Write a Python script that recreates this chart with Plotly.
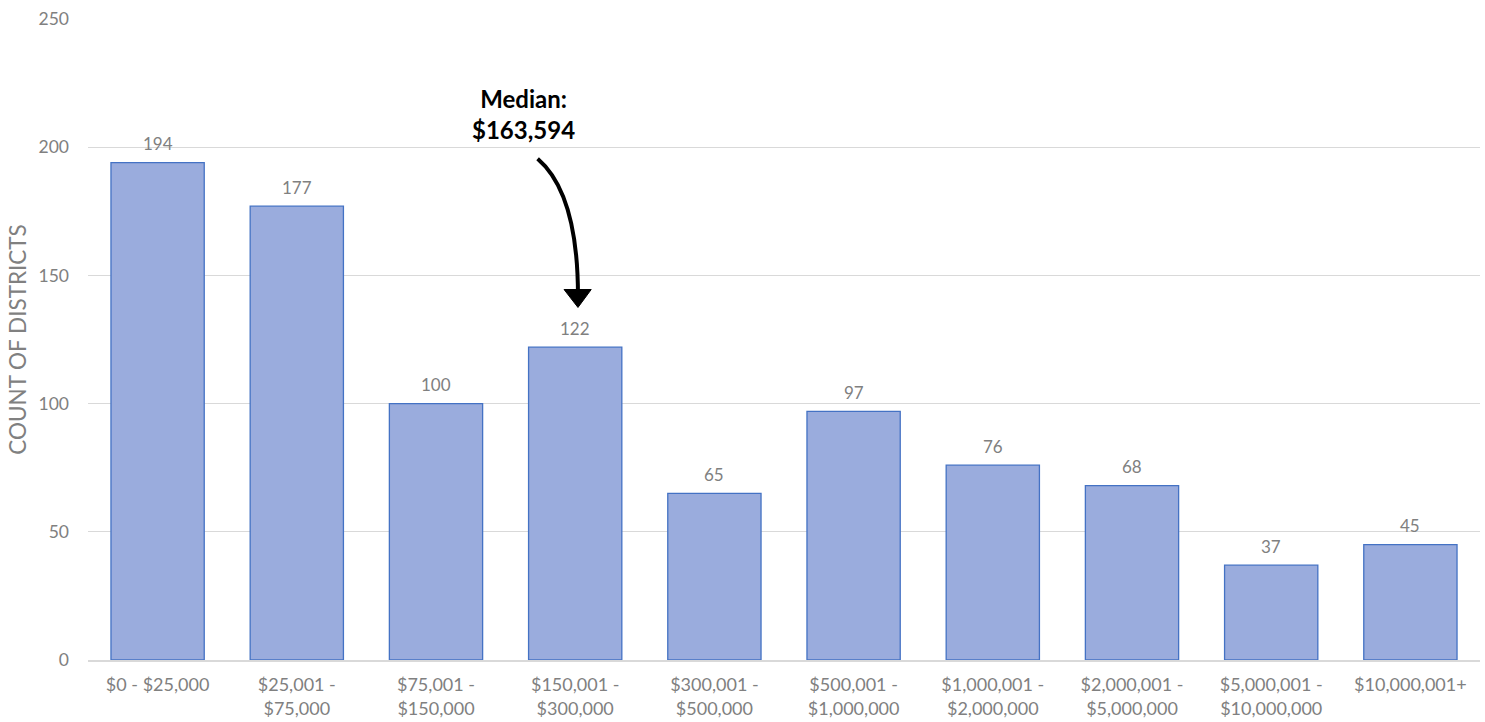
import plotly.graph_objects as go

categories = ["$0 - $25,000", "$25,001 -<br>$75,000", "$75,001 -<br>$150,000",
              "$150,001 -<br>$300,000", "$300,001 -<br>$500,000", "$500,001 -<br>$1,000,000",
              "$1,000,001 -<br>$2,000,000", "$2,000,001 -<br>$5,000,000",
              "$5,000,001 -<br>$10,000,000", "$10,000,001+"]
counts = [194, 177, 100, 122, 65, 97, 76, 68, 37, 45]
y_ticks = [0, 50, 100, 150, 200, 250]
median_label = "Median:<br>$163,594"

FONT = "Lato, Open Sans, sans-serif"
GRAY = "#808080"

xs = list(range(len(categories)))
fig = go.Figure()
fig.add_trace(go.Bar(
    x=xs, y=counts,
    marker=dict(color="#9aacdd", line=dict(color="#4472c4", width=1.3)),
    width=0.67, hoverinfo="y",
))

for xi, c in zip(xs, counts):
    fig.add_annotation(x=xi, y=c, xref="x", yref="y", text=str(c), showarrow=False,
                       yshift=19, font=dict(size=17, color=GRAY, family=FONT))

# curved arrow to the median bin (index 3)
fig.add_shape(type="path", xref="x", yref="y",
              path="M 2.73,195.5 Q 3.02,182 3.02,142",
              line=dict(color="black", width=4))
fig.add_shape(type="path", xref="x", yref="y",
              path="M 2.92,144.5 L 3.115,144.5 L 3.02,137.5 Z",
              fillcolor="black", line=dict(color="black", width=1))

fig.add_annotation(x=2.625, y=213, xref="x", yref="y", text="<b>" + median_label + "</b>",
                   showarrow=False, font=dict(size=24, color="black", family=FONT),
                   align="center")

fig.update_layout(
    width=1485, height=722,
    margin=dict(l=88, r=5, t=19, b=62),
    plot_bgcolor="white", paper_bgcolor="white",
    showlegend=False,
    font=dict(family=FONT, color=GRAY),
)
fig.update_xaxes(tickmode="array", tickvals=xs, ticktext=categories,
                 range=[-0.5, len(categories) - 0.5], automargin=False,
                 tickfont=dict(size=18, color=GRAY, family=FONT),
                 showgrid=False, showline=True, linecolor="#d9d9d9", linewidth=1.5,
                 ticks="", ticklen=0, ticklabelstandoff=8)
fig.update_yaxes(range=[0, 250], tickvals=y_ticks, showgrid=True, gridcolor="#d9d9d9",
                 gridwidth=1, zeroline=False, automargin=False,
                 tickfont=dict(size=17.5, color=GRAY, family=FONT), ticklabelstandoff=18,
                 title=dict(text="COUNT OF DISTRICTS", font=dict(size=22.5, color=GRAY, family=FONT),
                            standoff=5))

fig.write_html("out.html")
